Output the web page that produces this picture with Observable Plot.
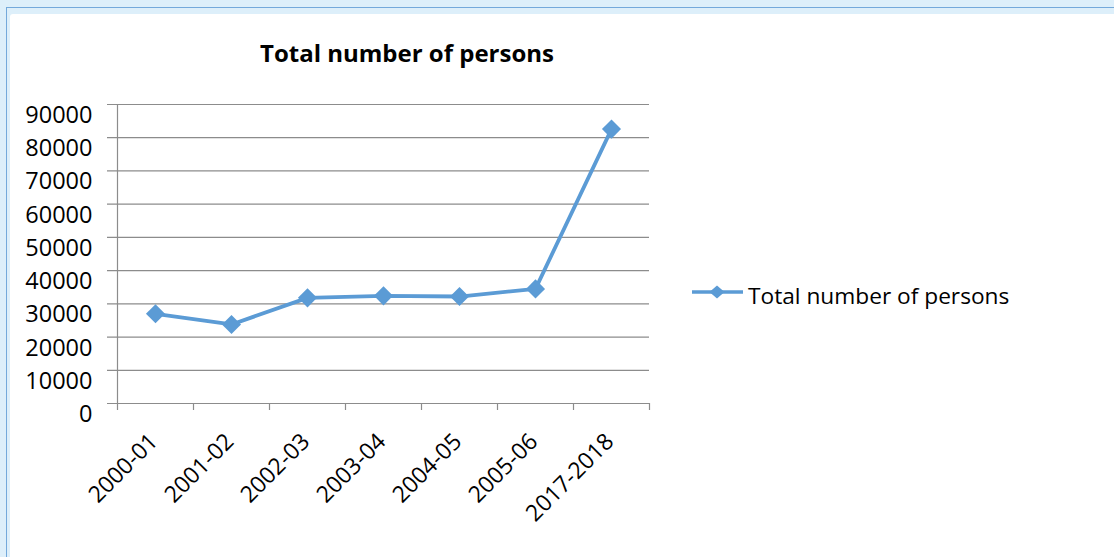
<!DOCTYPE html>
<html>
<head>
<meta charset="utf-8">
<script src="https://cdn.jsdelivr.net/npm/d3@7"></script>
<script src="https://cdn.jsdelivr.net/npm/@observablehq/plot@0.6"></script>
<style>
  html, body { margin: 0; padding: 0; background: #ffffff; }
  #wrap { position: relative; width: 1114px; height: 557px; overflow: hidden; background: #ddeffa; font-family: "Open Sans", sans-serif; color: #000; }
  #frameline { position: absolute; left: 6px; top: 7px; width: 1200px; height: 700px; border-left: 1.5px solid #74a9db; border-top: 1.5px solid #74a9db; }
  #panel { position: absolute; left: 10px; top: 14px; width: 1200px; height: 700px; background: #ffffff; border-top-left-radius: 3px; }
  #title { position: absolute; left: 0; width: 814px; top: 40.7px; text-align: center; font-weight: 700; font-size: 24px; line-height: 1; white-space: nowrap; }
  #chart { position: absolute; left: 0; top: 0; }
  #legend { position: absolute; left: 690px; top: 281px; height: 24px; }
  #legend svg { position: absolute; left: 0; top: 0; }
  #legend span { position: absolute; left: 58px; top: 3.6px; font-size: 22.7px; line-height: 1; white-space: nowrap; }
</style>
</head>
<body>
<div id="wrap">
  <div id="frameline"></div>
  <div id="panel"></div>
  <div id="chart"></div>
  <div id="title"></div>
  <div id="legend"></div>
</div>
<script>
// ---- data ----
const chartTitle = "Total number of persons";
const seriesName = "Total number of persons";
const periods = ["2000-01", "2001-02", "2002-03", "2003-04", "2004-05", "2005-06", "2017-2018"];
const persons = [27000, 23800, 31800, 32400, 32200, 34500, 82600];
const yTicks = [0, 10000, 20000, 30000, 40000, 50000, 60000, 70000, 80000, 90000];

const lineColor = "#5b9bd5";
const gridColor = "#8c8c8c";

const data = periods.map((p, i) => ({period: p, value: persons[i]}));

document.getElementById("title").textContent = chartTitle;

const plot = Plot.plot({
  width: 1114,
  height: 557,
  marginLeft: 117,
  marginRight: 465,
  marginTop: 104,
  marginBottom: 154,
  style: {background: "transparent", color: "#000", fontFamily: "'Open Sans', sans-serif", overflow: "visible"},
  x: {type: "point", domain: periods, padding: 0.5, axis: null},
  y: {domain: [0, 90000], axis: null},
  marks: [
    // horizontal gridlines, extended left to form the y tick marks
    Plot.ruleY(yTicks, {y: d => d, stroke: gridColor, strokeWidth: 1.2, insetLeft: -10}),
    // vertical axis line
    Plot.ruleX([periods[0]], {x: d => d, dx: -38, stroke: gridColor, strokeWidth: 1.2, insetBottom: -7}),
    // category boundary ticks
    Plot.ruleX(periods, {x: d => d, dx: 38, stroke: gridColor, strokeWidth: 1.2, insetTop: 299, insetBottom: -7}),
    // y labels
    Plot.text(yTicks, {y: d => d, frameAnchor: "left", text: d => String(d), textAnchor: "end", dx: -25, dy: 11, fontSize: 23.5, fill: "#000"}),
    // x labels
    Plot.text(periods, {x: d => d, frameAnchor: "bottom", text: d => d, rotate: -45, textAnchor: "end", lineAnchor: "bottom", dx: 3.5, dy: 39.5, fontSize: 23, fill: "#000"}),
    // series
    Plot.line(data, {x: "period", y: "value", stroke: lineColor, strokeWidth: 3.8, strokeLinejoin: "round"}),
    Plot.dot(data, {x: "period", y: "value", symbol: "diamond2", r: 8.6, fill: lineColor, stroke: "none"})
  ]
});
document.getElementById("chart").appendChild(plot);

// legend
const legend = document.getElementById("legend");
legend.innerHTML = `<svg width="60" height="24" viewBox="0 0 60 24">
  <line x1="2" y1="11" x2="53" y2="11" stroke="${lineColor}" stroke-width="3.6"/>
  <polygon points="27,4.5 34.5,11 27,17.5 19.5,11" fill="${lineColor}"/>
</svg>`;
const span = document.createElement("span");
span.textContent = seriesName;
legend.appendChild(span);
</script>
</body>
</html>
